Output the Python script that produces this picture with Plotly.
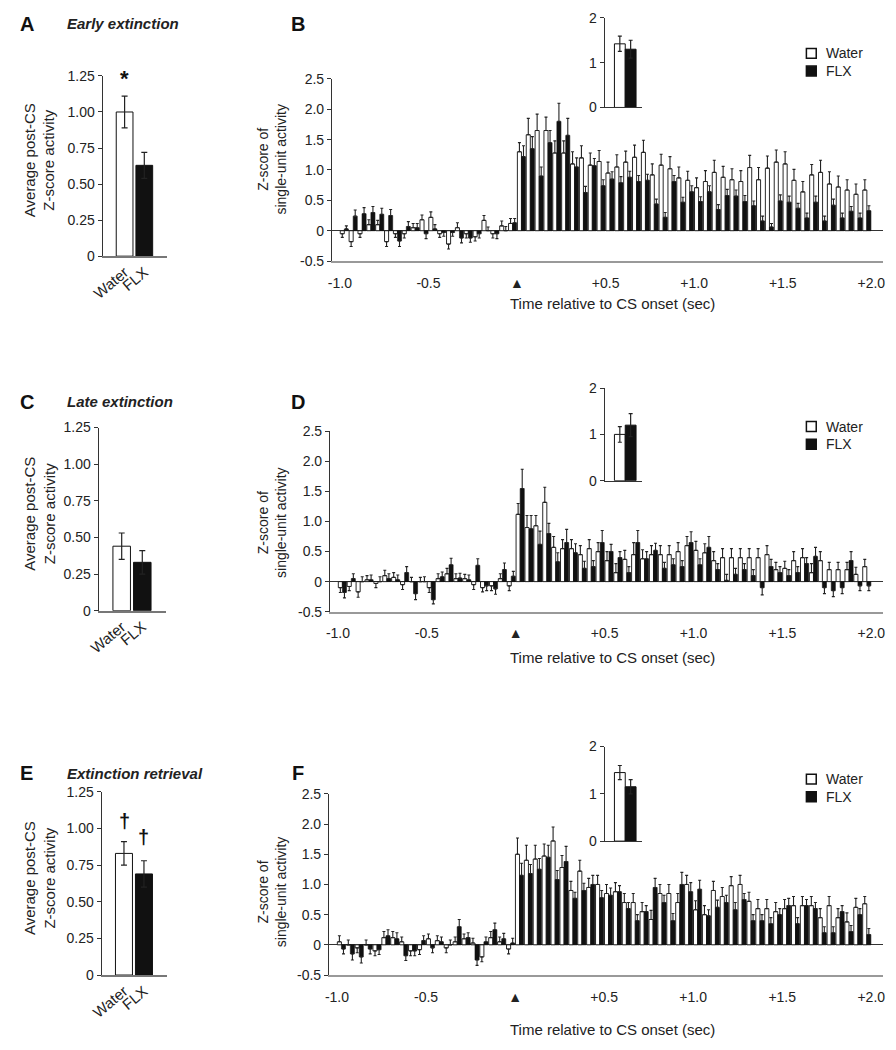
import plotly.graph_objects as go

W, H = 896, 1050
FONT = "Liberation Sans, Arial, sans-serif"
TXT = "#222"

# ---------------- data ----------------
groups = ["Water", "FLX"]

early_avg = [1.00, 0.63]
early_avg_sem = [0.11, 0.09]
late_avg = [0.44, 0.33]
late_avg_sem = [0.09, 0.08]
retr_avg = [0.83, 0.69]
retr_avg_sem = [0.08, 0.09]

early_inset = [1.42, 1.30]
early_inset_sem = [0.17, 0.20]
late_inset = [1.00, 1.20]
late_inset_sem = [0.17, 0.25]
retr_inset = [1.45, 1.15]
retr_inset_sem = [0.15, 0.15]

# 50-ms bins from -1.0 s to +2.0 s (bin start times)
bin_starts = [round(-1.0 + 0.05 * i, 2) for i in range(60)]

early_water = [-0.05, -0.18, -0.05, 0.10, 0.10, -0.18, -0.05, -0.05, 0.05, 0.18,
               0.22, -0.05, -0.22, 0.05, -0.05, -0.10, 0.17, -0.05, 0.08, 0.12,
               1.30, 1.58, 1.65, 1.65, 1.28, 1.28, 1.10, 1.20, 1.08, 1.14,
               0.95, 1.05, 1.13, 1.21, 1.29, 0.92, 1.08, 1.02, 0.87, 0.83,
               0.71, 0.81, 0.96, 0.88, 0.84, 0.81, 1.04, 0.84, 1.03, 1.13,
               1.10, 0.83, 0.64, 0.92, 0.96, 0.77, 0.72, 0.67, 0.60, 0.67]
early_water_sem = [0.06, 0.08, 0.06, 0.08, 0.07, 0.08, 0.06, 0.07, 0.07, 0.08,
                   0.09, 0.06, 0.08, 0.08, 0.07, 0.07, 0.08, 0.07, 0.08, 0.08,
                   0.15, 0.27, 0.27, 0.22, 0.20, 0.20, 0.20, 0.20, 0.20, 0.18,
                   0.18, 0.20, 0.18, 0.20, 0.20, 0.18, 0.18, 0.20, 0.18, 0.15,
                   0.16, 0.18, 0.20, 0.18, 0.18, 0.18, 0.20, 0.20, 0.20, 0.20,
                   0.20, 0.18, 0.17, 0.17, 0.20, 0.20, 0.18, 0.17, 0.17, 0.17]
early_flx = [0.03, 0.24, 0.28, 0.30, 0.27, 0.25, -0.17, 0.07, 0.05, -0.05,
             0.03, -0.03, -0.03, -0.12, -0.12, -0.05, 0.00, -0.05, 0.00, 0.13,
             1.22, 1.35, 0.90, 1.45, 1.80, 1.57, 1.05, 0.63, 1.07, 0.74,
             0.85, 0.79, 0.88, 0.81, 0.83, 0.44, 0.22, 0.81, 0.47, 0.64,
             0.48, 0.64, 0.35, 0.58, 0.57, 0.48, 0.41, 0.16, 0.06, 0.49,
             0.47, 0.37, 0.21, 0.47, 0.16, 0.42, 0.21, 0.32, 0.21, 0.33]
early_flx_sem = [0.05, 0.10, 0.10, 0.10, 0.10, 0.10, 0.09, 0.08, 0.07, 0.08,
                 0.07, 0.06, 0.06, 0.08, 0.07, 0.07, 0.06, 0.08, 0.07, 0.07,
                 0.18, 0.20, 0.15, 0.20, 0.30, 0.28, 0.15, 0.10, 0.12, 0.10,
                 0.12, 0.10, 0.10, 0.10, 0.10, 0.08, 0.08, 0.10, 0.08, 0.10,
                 0.08, 0.10, 0.08, 0.10, 0.10, 0.10, 0.08, 0.08, 0.06, 0.10,
                 0.10, 0.08, 0.08, 0.10, 0.08, 0.10, 0.08, 0.08, 0.08, 0.08]

late_water = [-0.10, -0.08, -0.17, 0.03, -0.03, 0.10, 0.07, -0.05, 0.00, 0.00,
              -0.10, 0.05, 0.13, 0.05, 0.05, -0.05, -0.10, -0.07, 0.05, -0.07,
              1.12, 0.90, 0.93, 1.32, 0.57, 0.55, 0.55, 0.45, 0.55, 0.50,
              0.35, 0.15, 0.37, 0.45, 0.38, 0.45, 0.45, 0.45, 0.50, 0.60,
              0.52, 0.48, 0.35, 0.40, 0.40, 0.40, 0.40, 0.40, 0.45, 0.20,
              0.22, 0.35, 0.40, 0.15, 0.35, 0.20, 0.20, 0.20, 0.12, 0.25]
late_water_sem = [0.08, 0.07, 0.09, 0.07, 0.07, 0.09, 0.08, 0.08, 0.07, 0.07,
                  0.08, 0.08, 0.09, 0.08, 0.07, 0.08, 0.07, 0.08, 0.08, 0.08,
                  0.18, 0.20, 0.17, 0.25, 0.18, 0.15, 0.15, 0.15, 0.15, 0.15,
                  0.15, 0.15, 0.15, 0.20, 0.15, 0.15, 0.15, 0.15, 0.15, 0.15,
                  0.15, 0.15, 0.15, 0.15, 0.15, 0.15, 0.15, 0.15, 0.15, 0.12,
                  0.12, 0.15, 0.15, 0.15, 0.15, 0.12, 0.12, 0.12, 0.12, 0.12]
late_flx = [-0.18, 0.05, 0.00, 0.03, 0.00, 0.05, 0.03, 0.15, -0.20, 0.00,
            -0.30, 0.08, 0.28, 0.06, 0.03, 0.27, -0.07, -0.12, 0.20, 0.09,
            1.55, 0.88, 0.62, 0.80, 0.33, 0.65, 0.48, 0.22, 0.25, 0.65,
            0.50, 0.40, 0.15, 0.65, 0.38, 0.52, 0.22, 0.28, 0.25, 0.65,
            0.28, 0.57, 0.20, 0.02, 0.12, 0.20, 0.10, -0.10, 0.25, 0.15,
            0.10, 0.15, 0.30, 0.42, -0.10, -0.15, -0.10, 0.35, -0.07, -0.07]
late_flx_sem = [0.09, 0.08, 0.08, 0.08, 0.08, 0.08, 0.08, 0.10, 0.10, 0.08,
                0.07, 0.08, 0.11, 0.08, 0.08, 0.11, 0.08, 0.09, 0.11, 0.08,
                0.32, 0.22, 0.22, 0.17, 0.15, 0.22, 0.15, 0.12, 0.10, 0.20,
                0.12, 0.10, 0.10, 0.20, 0.12, 0.12, 0.10, 0.10, 0.10, 0.18,
                0.10, 0.18, 0.10, 0.10, 0.10, 0.10, 0.10, 0.12, 0.12, 0.10,
                0.10, 0.10, 0.10, 0.15, 0.10, 0.10, 0.10, 0.15, 0.08, 0.08]

retr_water = [0.05, 0.00, -0.05, 0.00, -0.10, 0.12, 0.12, 0.05, -0.10, -0.08,
              0.10, 0.07, -0.05, 0.05, 0.10, 0.03, -0.20, 0.12, 0.05, -0.07,
              1.50, 1.40, 1.42, 1.47, 1.72, 1.28, 0.90, 1.22, 0.95, 1.00,
              0.85, 0.88, 0.70, 0.70, 0.55, 0.42, 0.85, 0.85, 0.70, 1.00,
              0.58, 0.50, 0.90, 0.80, 0.98, 1.00, 0.72, 0.60, 0.60, 0.55,
              0.60, 0.65, 0.65, 0.65, 0.45, 0.65, 0.45, 0.38, 0.62, 0.68]
retr_water_sem = [0.10, 0.08, 0.08, 0.08, 0.08, 0.10, 0.10, 0.08, 0.08, 0.08,
                  0.08, 0.08, 0.08, 0.08, 0.08, 0.08, 0.08, 0.10, 0.08, 0.08,
                  0.27, 0.25, 0.23, 0.20, 0.23, 0.20, 0.15, 0.18, 0.15, 0.15,
                  0.15, 0.15, 0.15, 0.15, 0.15, 0.15, 0.15, 0.15, 0.15, 0.15,
                  0.15, 0.15, 0.15, 0.15, 0.15, 0.15, 0.15, 0.15, 0.15, 0.15,
                  0.15, 0.15, 0.15, 0.15, 0.15, 0.15, 0.15, 0.15, 0.15, 0.12]
retr_flx = [-0.07, -0.15, -0.20, -0.07, -0.08, 0.15, 0.10, -0.18, -0.10, 0.07,
            -0.05, 0.05, 0.00, 0.30, 0.12, -0.25, 0.05, 0.25, 0.10, 0.03,
            1.15, 1.18, 1.25, 1.45, 1.08, 1.38, 0.77, 0.90, 1.00, 0.78,
            0.82, 0.88, 0.60, 0.40, 0.55, 0.95, 0.70, 0.40, 1.00, 0.88,
            0.92, 0.48, 0.62, 0.70, 0.58, 0.75, 0.40, 0.40, 0.35, 0.50,
            0.65, 0.35, 0.65, 0.60, 0.20, 0.20, 0.55, 0.22, 0.50, 0.17]
retr_flx_sem = [0.08, 0.10, 0.10, 0.08, 0.08, 0.10, 0.10, 0.08, 0.08, 0.08,
                0.08, 0.08, 0.08, 0.12, 0.08, 0.09, 0.08, 0.11, 0.09, 0.08,
                0.20, 0.15, 0.18, 0.20, 0.15, 0.25, 0.10, 0.12, 0.15, 0.12,
                0.12, 0.10, 0.10, 0.10, 0.10, 0.15, 0.12, 0.12, 0.20, 0.15,
                0.15, 0.10, 0.12, 0.12, 0.12, 0.10, 0.10, 0.10, 0.10, 0.10,
                0.12, 0.10, 0.10, 0.10, 0.10, 0.10, 0.10, 0.10, 0.10, 0.10]

main_ticks = [-1.0, -0.5, 0.0, 0.5, 1.0, 1.5, 2.0]
main_ticktext = ["-1.0", "-0.5", "\u25B2", "+0.5", "+1.0", "+1.5", "+2.0"]
main_yticks = [-0.5, 0.0, 0.5, 1.0, 1.5, 2.0, 2.5]
main_yticktext = ["-0.5", "0", "0.5", "1.0", "1.5", "2.0", "2.5"]
avg_yticks = [0, 0.25, 0.5, 0.75, 1.0, 1.25]
avg_yticktext = ["0", "0.25", "0.50", "0.75", "1.00", "1.25"]
inset_yticks = [0, 1, 2]

for arr in [early_water, early_water_sem, early_flx, early_flx_sem, late_water, late_water_sem,
            late_flx, late_flx_sem, retr_water, retr_water_sem, retr_flx, retr_flx_sem]:
    assert len(arr) == 60, len(arr)

# ---------------- helpers ----------------
def dx(a, b):
    return [a / W, b / W]

def dy(top, bottom):
    return [1 - bottom / H, 1 - top / H]

def px(x):
    return x / W

def py(y):
    return 1 - y / H

def err(vals, sems):
    plus = [s if v >= 0 else 0 for v, s in zip(vals, sems)]
    minus = [s if v < 0 else 0 for v, s in zip(vals, sems)]
    return dict(type="data", symmetric=False, array=plus, arrayminus=minus,
                color="#222", thickness=1.1, width=1.5)

fig = go.Figure()
layout = {}
annotations = []
shapes = []

tickfont = dict(family=FONT, size=14, color=TXT)

# ---- small average panels (A, C, E) ----
small = [
    (1, early_avg, early_avg_sem, (92, 157), (69, 252)),
    (2, late_avg, late_avg_sem, (88, 156), (426, 612)),
    (3, retr_avg, retr_avg_sem, (91, 157), (796, 982)),
]
for n, vals, sems, (xa, xb), (yt, yb) in small:
    sfx = "" if n == 1 else str(n)
    fig.add_trace(go.Bar(
        x=[0, 1], y=vals, width=0.85,
        marker=dict(color=["white", "#111"], line=dict(color="#111", width=1)),
        error_y=dict(type="data", array=sems, color="#222", thickness=1.2, width=3),
        xaxis="x" + sfx, yaxis="y" + sfx, showlegend=False))
    layout["xaxis" + sfx] = dict(
        domain=dx(xa, xb), anchor="y" + sfx, range=[-1.12, 2.13],
        tickvals=[0, 1], ticktext=groups, tickangle=-40, tickfont=dict(family=FONT, size=15, color=TXT),
        showline=True, linecolor="#777", linewidth=1.5, ticks="", showgrid=False, zeroline=False)
    layout["yaxis" + sfx] = dict(
        domain=dy(yt, yb), anchor="x" + sfx, range=[0, 1.25],
        tickvals=avg_yticks, ticktext=avg_yticktext, tickfont=tickfont,
        showline=True, linecolor="#333", linewidth=1, ticks="outside", ticklen=4, tickcolor="#333",
        showgrid=False, zeroline=False)

# ---- main histograms (B, D, F) ----
main = [
    (4, early_water, early_water_sem, early_flx, early_flx_sem, 325, (72, 257)),
    (5, late_water, late_water_sem, late_flx, late_flx_sem, 323, (430, 613)),
    (6, retr_water, retr_water_sem, retr_flx, retr_flx_sem, 322, (798, 982)),
]
for n, wv, ws, fv, fs, xa, (yt, yb) in main:
    sfx = str(n)
    fig.add_trace(go.Bar(
        x=bin_starts, y=wv, offset=0.002, width=0.023,
        marker=dict(color="white", line=dict(color="#111", width=0.9)),
        error_y=err(wv, ws), xaxis="x" + sfx, yaxis="y" + sfx, showlegend=False))
    fig.add_trace(go.Bar(
        x=bin_starts, y=fv, offset=0.025, width=0.023,
        marker=dict(color="#111", line=dict(color="#111", width=0.6)),
        error_y=err(fv, fs), xaxis="x" + sfx, yaxis="y" + sfx, showlegend=False))
    layout["xaxis" + sfx] = dict(
        domain=dx(xa, 885), anchor="y" + sfx, range=[-1.045, 2.067],
        tickvals=main_ticks, ticktext=main_ticktext, tickfont=tickfont, tickangle=0,
        showline=True, linecolor="#999", linewidth=2, ticks="", ticklabelstandoff=8,
        showgrid=False, zeroline=False)
    layout["yaxis" + sfx] = dict(
        domain=dy(yt, yb), anchor="x" + sfx, range=[-0.5, 2.5],
        tickvals=main_yticks, ticktext=main_yticktext, tickfont=tickfont,
        showline=True, linecolor="#333", linewidth=1, ticks="outside", ticklen=4, tickcolor="#333",
        showgrid=False, zeroline=True, zerolinecolor="#333", zerolinewidth=1)

# ---- insets ----
insets = [
    (7, early_inset, early_inset_sem, (10, 101)),
    (8, late_inset, late_inset_sem, (386, 480)),
    (9, retr_inset, retr_inset_sem, (750, 846)),
]
for n, vals, sems, (yt, yb) in insets:
    sfx = str(n)
    fig.add_trace(go.Bar(
        x=[0, 1], y=vals, width=1.0,
        marker=dict(color=["white", "#111"], line=dict(color="#111", width=1)),
        error_y=dict(type="data", array=sems, color="#222", thickness=1.2, width=2),
        xaxis="x" + sfx, yaxis="y" + sfx, showlegend=False))
    layout["xaxis" + sfx] = dict(
        domain=dx(602, 640), anchor="y" + sfx, range=[-1.41, 2.05],
        showticklabels=False, ticks="", showline=True, linecolor="#333", linewidth=1.2,
        showgrid=False, zeroline=False)
    layout["yaxis" + sfx] = dict(
        domain=dy(yt, yb), anchor="x" + sfx, range=[0, 2],
        tickvals=inset_yticks, tickfont=tickfont,
        showline=True, linecolor="#333", linewidth=1, ticks="outside", ticklen=4, tickcolor="#333",
        showgrid=False, zeroline=False)

# ---- text annotations ----
def ann(text, x, y, size=13, angle=0, xanchor="center", yanchor="middle", color=TXT):
    annotations.append(dict(text=text, x=px(x), y=py(y), xref="paper", yref="paper",
                            showarrow=False, textangle=angle, xanchor=xanchor, yanchor=yanchor,
                            font=dict(family=FONT, size=size, color=color)))

for letter, x, y in [("A", 15, 16), ("C", 15, 400), ("E", 15, 777),
                     ("B", 291, 16), ("D", 291, 400), ("F", 291, 777)]:
    ann("<b>" + letter + "</b>", x, y, size=20, color="#111")

ann("<b><i>Early extinction</i></b>", 54, 16, size=15, xanchor="left")
ann("<b><i>Late extinction</i></b>", 54, 400, size=15, xanchor="left")
ann("<b><i>Extinction retrieval</i></b>", 54, 777, size=15, xanchor="left")

for yc in (155, 514, 884):
    ann("Average post-CS<br>Z-score activity", 28, yc, size=15, angle=-90)
for yc in (153, 522, 897):
    ann("Z-score of<br>single-unit activity", 264, yc, size=14, angle=-90)
for yc in (300, 660, 1037):
    ann("Time relative to CS onset (sec)", 610, yc, size=15)

ann("<b>*</b>", 114, 72, size=22, color="#111")
ann("<b>\u2020</b>", 114, 826, size=20, color="#111")
ann("<b>\u2020</b>", 134, 842, size=20, color="#111")

# legends
for ytop in (41, 420, 778):
    shapes.append(dict(type="rect", xref="paper", yref="paper",
                       x0=px(807), x1=px(817), y0=py(ytop + 10), y1=py(ytop),
                       fillcolor="white", line=dict(color="#111", width=1.5)))
    shapes.append(dict(type="rect", xref="paper", yref="paper",
                       x0=px(807), x1=px(817), y0=py(ytop + 28), y1=py(ytop + 18),
                       fillcolor="#111", line=dict(color="#111", width=1.5)))
    ann("Water", 825, ytop + 5, size=14, xanchor="left")
    ann("FLX", 825, ytop + 23, size=14, xanchor="left")

fig.update_layout(
    width=W, height=H, autosize=False,
    margin=dict(l=0, r=0, t=0, b=0),
    paper_bgcolor="white", plot_bgcolor="white",
    barmode="overlay", showlegend=False,
    font=dict(family=FONT, color=TXT),
    annotations=annotations, shapes=shapes,
    **layout)

fig.write_html(
    "out.html",
    config={"displayModeBar": False},
    post_script=("document.documentElement.style.margin='0px';"
                 "document.documentElement.style.padding='0px';"
                 "document.documentElement.style.overflow='hidden';"
                 "document.body.style.margin='0px';"
                 "document.body.style.padding='0px';"
                 "document.body.style.overflow='hidden';"))
